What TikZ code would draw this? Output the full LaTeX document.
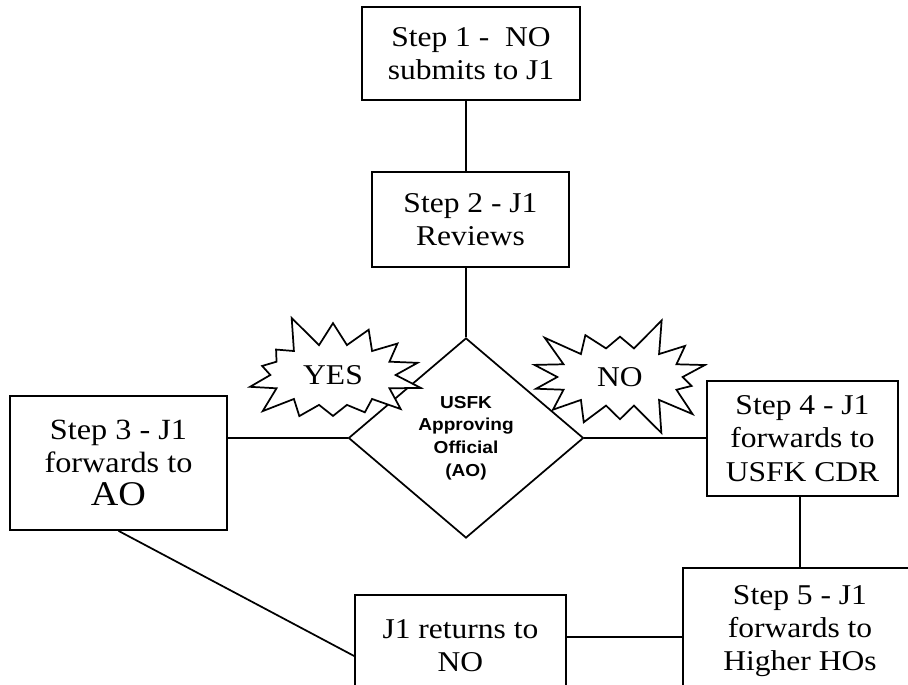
\documentclass[tikz,border=0pt]{standalone}
\usepackage{fontspec}
\setmainfont{Liberation Serif}[FakeStretch=1.1]
\newfontfamily\aofont{Liberation Sans}[FakeStretch=1.1]
\usetikzlibrary{shapes.geometric,shapes.symbols}
\tikzset{
  stepbox/.style={draw=black,fill=white,line width=1.3pt,align=center,
    inner sep=0pt,font=\fontsize{21.5}{25}\selectfont},
  decision/.style={diamond,draw=black,fill=white,line width=1.3pt,align=center,
    inner sep=0pt,font=\aofont\bfseries\fontsize{13}{17}\selectfont},
  burst/.style={starburst,draw=black,fill=white,line width=1.3pt,inner sep=0pt,
    starburst points=14,starburst point height=26pt,
    font=\fontsize{21.5}{25}\selectfont},
  link/.style={draw=black,line width=1.3pt}
}
\begin{document}
\begin{tikzpicture}[x=0.75pt,y=-0.75pt]
  \useasboundingbox (0,0) rectangle (908,685);
  \clip (0,0) rectangle (908,685);
  % boxes
  \node[stepbox,minimum width=163.5pt,minimum height=69.75pt] (step1) at (471,53.5)
    {Step 1 -~ NO\\submits to J1};
  \node[stepbox,minimum width=147.75pt,minimum height=71.25pt] (step2) at (470.5,219.5)
    {Step 2 - J1\\Reviews};
  \node[decision,minimum width=176.25pt,minimum height=150pt] (ao) at (466,438)
    {USFK\\Approving\\Official\\(AO)};
  \node[stepbox,minimum width=162.75pt,minimum height=100.5pt,
    font=\fontsize{22}{24.5}\selectfont] (step3) at (118.5,463)
    {Step 3 - J1\\forwards to\\{\fontsize{26}{27}\selectfont AO}};
  \node[stepbox,minimum width=143.25pt,minimum height=86.25pt] (step4) at (802.5,438.5)
    {Step 4 - J1\\forwards to\\USFK CDR};
  \node[stepbox,minimum width=175.5pt,minimum height=94.5pt] (step5) at (800,631)
    {Step 5 - J1\\forwards to\\Higher HOs};
  \node[stepbox,minimum width=158.25pt,minimum height=76.5pt] (jret) at (460.5,646)
    {J1 returns to\\NO};
  % connectors
  \draw[link] (ao.north |- step1.south) -- (ao.north |- step2.north);
  \draw[link] (ao.north |- step2.south) -- (ao.north);
  \draw[link] (ao.west) -- (ao.west -| step3.east);
  \draw[link] (ao.east) -- (ao.east -| step4.west);
  \draw[link] (step5.north |- step4.south) -- (step5.north);
  \draw[link] ([yshift=6.75pt]jret.east) -- ([yshift=6.75pt]jret.east -| step5.west);
  \draw[link] (step3.south) -- ([yshift=-7.5pt]jret.west);
  % answers
  \node[burst,random starburst=5,minimum width=146pt,minimum height=98pt] (yes) at (333,375) {YES};
  \node[burst,random starburst=3,minimum width=146pt,minimum height=96pt] (no) at (620,377) {NO};
\end{tikzpicture}
\end{document}
